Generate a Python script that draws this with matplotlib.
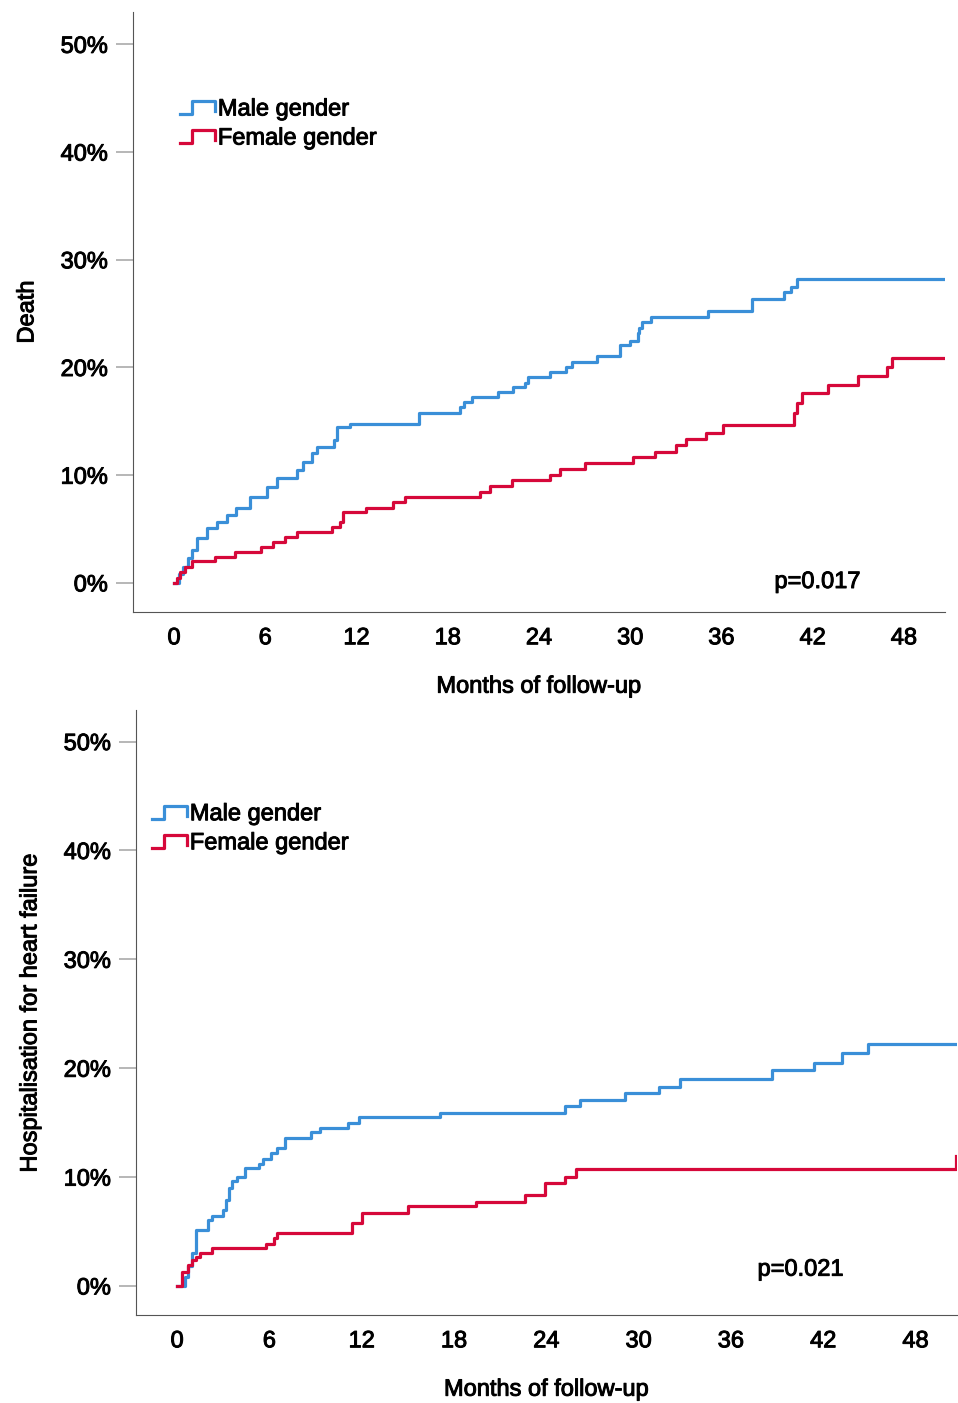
import matplotlib
matplotlib.use("Agg")
import matplotlib.pyplot as plt
import matplotlib.patheffects as pe
from matplotlib.lines import Line2D
from matplotlib.legend_handler import HandlerBase

plt.rcParams['font.family'] = ['Liberation Sans', 'DejaVu Sans']

BLUE = '#3a8fd8'
RED = '#d6083a'
FS = 17
# slight stroke so the text looks a bit heavier, like the original export
BOLDISH = [pe.withStroke(linewidth=0.7, foreground='black')]

# Death - cumulative incidence (%)
death_male_t = [0, 0.3, 0.6, 0.9, 1.2, 1.5, 2.2, 2.8, 3.5, 4.1, 5.0, 6.1, 6.8, 8.1, 8.5, 9.1, 9.4,
                10.5, 10.7, 11.6, 16.1, 18.8, 19.1, 19.6, 21.3, 22.3, 23.1, 23.3, 24.7, 25.8, 26.2,
                27.8, 29.3, 30.0, 30.5, 30.6, 30.8, 31.4, 35.1, 38.0, 40.1, 40.6, 41.0, 50.7]
death_male_v = [0, 0.8, 1.5, 2.3, 3.1, 4.2, 5.1, 5.7, 6.3, 7.0, 8.0, 8.9, 9.7, 10.5, 11.2, 12.1, 12.6,
                13.3, 14.5, 14.8, 15.8, 16.3, 16.8, 17.3, 17.7, 18.2, 18.6, 19.1, 19.6, 20.0, 20.5,
                21.1, 22.1, 22.5, 23.2, 23.7, 24.2, 24.7, 25.2, 26.4, 27.0, 27.5, 28.2, 28.2]
death_female_t = [0, 0.2, 0.4, 0.7, 1.2, 2.7, 4.0, 5.7, 6.5, 7.3, 8.1, 10.4, 10.9, 11.1, 12.6, 14.4,
                  15.2, 20.1, 20.8, 22.2, 24.7, 25.4, 27.0, 30.2, 31.6, 33.0, 33.7, 35.0, 36.1, 40.8,
                  41.0, 41.3, 43.0, 45.0, 46.9, 47.2, 50.7]
death_female_v = [0, 0.5, 1.0, 1.5, 2.0, 2.4, 2.9, 3.3, 3.8, 4.3, 4.7, 5.2, 5.7, 6.6, 7.0, 7.5,
                  8.0, 8.4, 9.0, 9.6, 10.0, 10.6, 11.1, 11.7, 12.2, 12.8, 13.4, 13.9, 14.7, 15.8,
                  16.7, 17.6, 18.4, 19.2, 20.0, 20.9, 20.9]

# Hospitalisation for heart failure - cumulative incidence (%)
hf_male_t = [0, 0.3, 0.5, 0.7, 1.0, 1.2, 2.0, 2.3, 3.0, 3.2, 3.4, 3.6, 3.9, 4.4, 5.3, 5.6, 6.1, 6.5,
             7.0, 8.7, 9.3, 11.1, 11.8, 17.1, 25.2, 26.2, 29.1, 31.3, 32.7, 38.7, 41.4, 43.2, 44.9, 50.7]
hf_male_v = [0, 0, 0.8, 1.8, 3.0, 5.1, 6.1, 6.4, 7.0, 7.9, 9.0, 9.6, 10.0, 10.8, 11.2, 11.7, 12.2, 12.7,
             13.6, 14.1, 14.5, 15.0, 15.5, 15.9, 16.5, 17.1, 17.7, 18.3, 19.0, 19.8, 20.5, 21.4, 22.2, 22.2]
hf_female_t = [0, 0.3, 0.7, 1.0, 1.2, 1.5, 2.3, 5.8, 6.3, 6.5, 11.4, 12.0, 15.0, 19.4, 22.6, 23.9,
               25.2, 25.9, 50.6]
hf_female_v = [0, 1.3, 1.9, 2.4, 2.7, 3.0, 3.5, 3.9, 4.4, 4.9, 5.8, 6.7, 7.3, 7.7, 8.4, 9.5,
               10.0, 10.7, 11.9]

x_ticks = [0, 6, 12, 18, 24, 30, 36, 42, 48]
y_ticks = [0, 10, 20, 30, 40, 50]
y_labels = ['0%', '10%', '20%', '30%', '40%', '50%']
groups = ['Male gender', 'Female gender']


class StepHandler(HandlerBase):
    def create_artists(self, legend, orig_handle, xdescent, ydescent, width, height, fontsize, trans):
        w, h = width, height
        xs = [-xdescent, 0.35 * w, 0.35 * w, w, w]
        ys = [0.1 * h, 0.1 * h, 0.85 * h, 0.85 * h, 0.25 * h]
        ln = Line2D(xs, ys, color=orig_handle.get_color(), lw=orig_handle.get_linewidth())
        ln.set_transform(trans)
        return [ln]


def draw(ax, mt, mv, ft, fv, ylabel, pval, ppos, legpos, xlim, ylim):
    lm, = ax.step(mt, mv, where='post', color=BLUE, lw=2.3)
    lf, = ax.step(ft, fv, where='post', color=RED, lw=2.3)
    ax.set_xlim(*xlim)
    ax.set_ylim(*ylim)
    ax.set_xticks(x_ticks)
    ax.set_yticks(y_ticks)
    ax.set_yticklabels(y_labels)
    for s in ['top', 'right']:
        ax.spines[s].set_visible(False)
    ax.spines['left'].set_color('#555555')
    ax.spines['bottom'].set_color('#555555')
    ax.tick_params(axis='x', length=0, pad=11, labelsize=FS)
    ax.tick_params(axis='y', length=12, color='#aaaaaa', width=1.2, pad=6, labelsize=FS)
    for lbl in ax.get_xticklabels() + ax.get_yticklabels():
        lbl.set_path_effects(BOLDISH)
    ax.set_xlabel('Months of follow-up', fontsize=FS, labelpad=19, path_effects=BOLDISH)
    ax.set_ylabel(ylabel, fontsize=FS, labelpad=16, path_effects=BOLDISH)
    ax.text(ppos[0], ppos[1], pval, fontsize=FS, transform=ax.transAxes, va='center',
            path_effects=BOLDISH)
    leg = ax.legend([lm, lf], groups, handler_map={Line2D: StepHandler()}, loc='upper left',
                    bbox_to_anchor=legpos, frameon=False, fontsize=FS, handlelength=1.5,
                    handletextpad=0.1, labelspacing=0.3, borderaxespad=0, borderpad=0)
    for t in leg.get_texts():
        t.set_path_effects(BOLDISH)


fig = plt.figure(figsize=(9.58, 14.03), dpi=100)
ax1 = fig.add_axes([0.1388, 0.5638, 0.8476, 0.4276])
ax2 = fig.add_axes([0.1420, 0.0627, 0.8570, 0.4312])

draw(ax1, death_male_t, death_male_v, death_female_t, death_female_v, 'Death',
     'p=0.017', (0.79, 0.05), (0.058, 0.856), (-2.7, 50.7), (-2.7, 53.0))
draw(ax2, hf_male_t, hf_male_v, hf_female_t, hf_female_v, 'Hospitalisation for heart failure',
     'p=0.021', (0.757, 0.075), (0.0195, 0.846), (-2.67, 50.7), (-2.67, 52.9))

fig.savefig('out.png', dpi=100)
